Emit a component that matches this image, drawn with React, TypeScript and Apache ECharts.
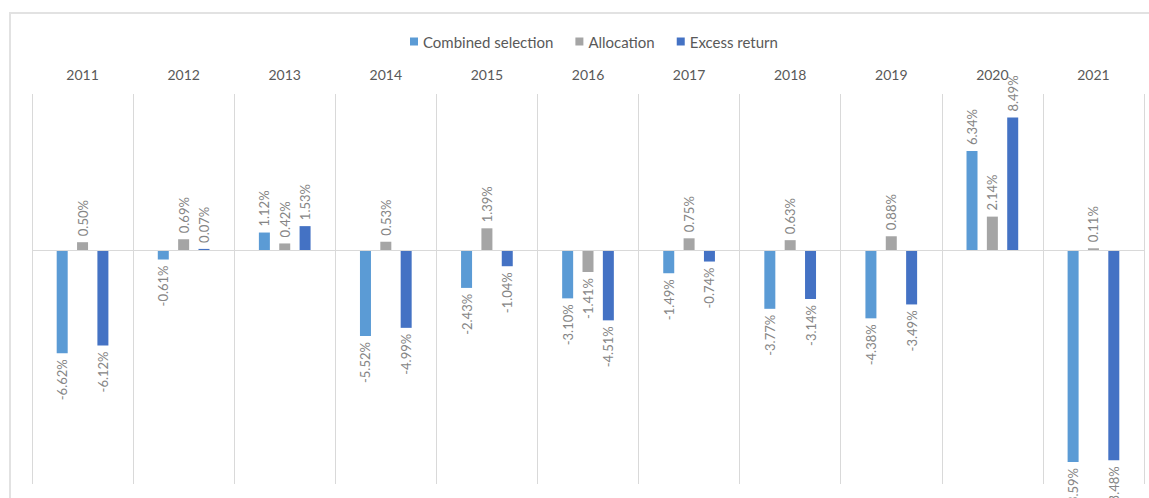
import React, { useEffect, useRef } from "react";
import * as echarts from "echarts";

const years = ["2011", "2012", "2013", "2014", "2015", "2016", "2017", "2018", "2019", "2020", "2021"];
const combinedSelection = [-6.62, -0.61, 1.12, -5.52, -2.43, -3.1, -1.49, -3.77, -4.38, 6.34, -13.59];
const allocation = [0.5, 0.69, 0.42, 0.53, 1.39, -1.41, 0.75, 0.63, 0.88, 2.14, 0.11];
const excessReturn = [-6.12, 0.07, 1.53, -4.99, -1.04, -4.51, -0.74, -3.14, -3.49, 8.49, -13.48];

const seriesNames = ["Combined selection", "Allocation", "Excess return"];
const seriesColors = ["#5B9BD5", "#A5A5A5", "#4472C4"];

const FONT = "Lato, 'Open Sans', sans-serif";

function toData(values: number[]) {
  return values.map((v) => ({
    value: v,
    label: {
      position: v >= 0 ? "top" : "bottom",
      align: v >= 0 ? "left" : "right",
      verticalAlign: "middle",
    },
  }));
}

export default function App() {
  const ref = useRef<HTMLDivElement>(null);
  useEffect(() => {
    if (!ref.current) return;
    const chart = echarts.init(ref.current, null, { renderer: "svg" });
    const allSeries = [combinedSelection, allocation, excessReturn].map((vals, i) => ({
      name: seriesNames[i],
      type: "bar",
      data: toData(vals),
      barWidth: 11,
      barGap: "85%",
      itemStyle: { color: seriesColors[i] },
      label: {
        show: true,
        rotate: 90,
        distance: 6,
        color: "#858585",
        fontSize: 13,
        fontFamily: FONT,
        formatter: (p: any) => p.value.toFixed(2) + "%",
      },
      markLine:
        i === 0
          ? {
              silent: true,
              symbol: "none",
              label: { show: false },
              lineStyle: { color: "#d9d9d9", type: "solid", width: 1 },
              data: [{ yAxis: 0 }],
            }
          : undefined,
    }));
    chart.setOption({
      animation: false,
      backgroundColor: "#ffffff",
      graphic: [
        {
          type: "rect",
          shape: { x: 10, y: 13, width: 1170, height: 520 },
          style: { fill: "none", stroke: "#e2e2e2", lineWidth: 2 },
          silent: true,
        },
      ],
      legend: {
        data: seriesNames,
        top: 29,
        left: 405,
        icon: "rect",
        itemWidth: 8,
        itemHeight: 8,
        itemGap: 22,
        textStyle: { color: "#595959", fontSize: 15, fontFamily: FONT },
      },
      grid: { left: 32, right: 5, top: 94, bottom: 14, containLabel: false },
      xAxis: {
        type: "category",
        data: years,
        position: "top",
        axisLine: { show: false },
        axisTick: { show: false },
        axisLabel: { color: "#595959", fontSize: 14, fontFamily: FONT, margin: 13 },
        splitLine: { show: true, interval: 0, lineStyle: { color: "#d9d9d9", width: 1 } },
      },
      yAxis: {
        type: "value",
        min: -15,
        max: 10,
        show: false,
        splitLine: { show: false },
      },
      series: allSeries,
    });
    return () => chart.dispose();
  }, []);
  return (
    <div
      ref={ref}
      style={{ position: "fixed", left: 0, top: 0, width: 1149, height: 498 }}
    />
  );
}
